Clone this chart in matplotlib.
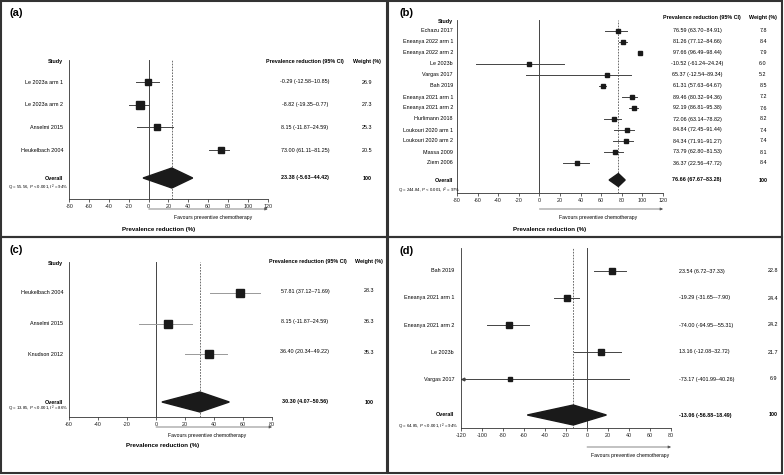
import matplotlib
matplotlib.use("Agg")
import matplotlib.pyplot as plt
import matplotlib.transforms as mtransforms
from matplotlib.patches import Rectangle, Polygon

plt.rcParams['font.family'] = ['Liberation Sans', 'DejaVu Sans']
plt.rcParams['mathtext.fontset'] = 'custom'
plt.rcParams['mathtext.rm'] = 'Liberation Sans'
plt.rcParams['mathtext.it'] = 'Liberation Sans:italic'
plt.rcParams['axes.unicode_minus'] = False

W, H = 784, 475

# (a)
a_studies = ["Le 2023a arm 1", "Le 2023a arm 2", "Anselmi 2015", "Heukelbach 2004"]
a_est = [-0.29, -8.82, 8.15, 73.00]
a_lo = [-12.58, -19.35, -11.87, 61.11]
a_hi = [10.85, 0.77, 24.59, 81.25]
a_wt = [26.9, 27.3, 25.3, 20.5]
a_overall = [23.38, -5.63, 44.42]
a_q = r"Q = 55.56, $\it{P}$ < 0.001, $\it{I}^2$ = 94%"

# (b)
b_studies = ["Echazu 2017", "Eneanya 2022 arm 1", "Eneanya 2022 arm 2", "Le 2023b",
             "Vargas 2017", "Bah 2019", "Eneanya 2021 arm 1", "Eneanya 2021 arm 2",
             "Hurlimann 2018", "Loukouri 2020 arm 1", "Loukouri 2020 arm 2",
             "Massa 2009", "Ziem 2006"]
b_est = [76.59, 81.26, 97.66, -10.52, 65.37, 61.31, 89.46, 92.19, 72.06, 84.84, 84.34, 73.79, 36.37]
b_lo = [63.70, 77.12, 96.49, -61.24, -12.54, 57.63, 80.32, 86.81, 63.14, 72.45, 71.91, 62.80, 22.56]
b_hi = [84.91, 84.66, 98.44, 24.24, 89.34, 64.67, 94.36, 95.38, 78.82, 91.44, 91.27, 81.53, 47.72]
b_wt = [7.8, 8.4, 7.9, 6.0, 5.2, 8.5, 7.2, 7.6, 8.2, 7.4, 7.4, 8.1, 8.4]
b_overall = [76.66, 67.67, 83.28]
b_q = r"Q = 244.84, $\it{P}$ < 0.001, $\it{I}^2$ = 97%"

# (c)
c_studies = ["Heukelbach 2004", "Anselmi 2015", "Knudson 2012"]
c_est = [57.81, 8.15, 36.40]
c_lo = [37.12, -11.87, 20.34]
c_hi = [71.69, 24.59, 49.22]
c_wt = [28.3, 36.3, 35.3]
c_overall = [30.30, 4.07, 50.56]
c_q = r"Q = 13.85, $\it{P}$ < 0.001, $\it{I}^2$ = 86%"

# (d)
d_studies = ["Bah 2019", "Eneanya 2021 arm 1", "Eneanya 2021 arm 2", "Le 2023b", "Vargas 2017"]
d_est = [23.54, -19.29, -74.00, 13.16, -73.17]
d_lo = [6.72, -31.65, -94.95, -12.08, -401.99]
d_hi = [37.33, -7.90, -55.31, 32.72, 40.26]
d_wt = [22.8, 24.4, 24.2, 21.7, 6.9]
d_overall = [-13.06, -56.88, 18.49]
d_q = r"Q = 64.85, $\it{P}$ < 0.001, $\it{I}^2$ = 94%"

FS = 3.9
DARK = '#1a1a1a'


def fx(px):
    return px / W


def fy(py):
    return 1 - py / H


def panel(fig, letter, off, box, xlim, rows, studies, est, lo, hi, wt, overall, q,
          label_x, ci_x, ci_ha, wt_x, header_y, arrow_y, fav_x, xlabel_pos,
          diamond_h, ci_color, ci_dy=0):
    ox, oy = off
    x0, top, x1, bot = box
    ax = fig.add_axes([fx(ox + x0), fy(oy + bot), (x1 - x0) / W, (bot - top) / H])
    ax.set_xlim(*xlim)
    # y axis measured in panel pixels from the panel top
    ax.set_ylim(bot, top)
    for s in ['top', 'right']:
        ax.spines[s].set_visible(False)
    for s in ['left', 'bottom']:
        ax.spines[s].set_linewidth(0.6)
        ax.spines[s].set_color('#333333')
    ax.set_yticks([])
    ax.set_xticks(range(xlim[0], xlim[1] + 1, 20))
    ax.tick_params(axis='x', length=2, width=0.5, labelsize=FS, pad=1.5, colors='#222222')
    ax.set_facecolor('none')

    ax.axvline(0, color='#444444', lw=0.7, zorder=1)
    ax.axvline(overall[0], color='#555555', lw=0.6, ls=(0, (2, 1.5)), zorder=1)

    tr = mtransforms.blended_transform_factory(fig.transFigure, ax.transData)
    y_first, step, oy_row, q_y = rows
    for i, name in enumerate(studies):
        y = y_first + i * step
        left = max(lo[i], xlim[0])
        ax.plot([left, hi[i]], [y, y], color=ci_color, lw=0.7, zorder=2)
        if lo[i] < xlim[0]:
            ax.plot(xlim[0] + 1.5, y, marker='<', ms=2, color=ci_color, clip_on=False, zorder=2)
        ax.plot(est[i], y, marker='s', ms=0.97 * wt[i] ** 0.5, color=DARK, mec=DARK, zorder=3)
        ax.text(fx(ox + label_x), y, name, transform=tr, ha='right', va='center', fontsize=FS)
        ax.text(fx(ox + ci_x), y + ci_dy, f"{est[i]:.2f} ({lo[i]:.2f}\u2013{hi[i]:.2f})",
                transform=tr, ha=ci_ha, va='center', fontsize=FS)
        ax.text(fx(ox + wt_x), y + ci_dy, f"{wt[i]:.1f}", transform=tr, ha='center', va='center', fontsize=FS)

    m, l, h = overall
    ax.add_patch(Polygon([[l, oy_row], [m, oy_row - diamond_h / 2], [h, oy_row], [m, oy_row + diamond_h / 2]],
                         closed=True, color=DARK, zorder=3))
    ax.text(fx(ox + label_x), oy_row, "Overall", transform=tr, ha='right', va='center',
            fontsize=FS, fontweight='bold')
    ax.text(fx(ox + ci_x), oy_row, f"{m:.2f} ({l:.2f}\u2013{h:.2f})", transform=tr, ha=ci_ha,
            va='center', fontsize=FS, fontweight='bold')
    ax.text(fx(ox + wt_x), oy_row, "100", transform=tr, ha='center', va='center',
            fontsize=FS, fontweight='bold')
    ax.text(fx(ox + 8), q_y, q, transform=tr, ha='left', va='center', fontsize=3.1)

    if header_y is not None:
        ax.text(fx(ox + label_x), header_y[0], "Study", transform=tr, ha='right', va='center',
                fontsize=FS, fontweight='bold')
        ax.text(fx(ox + header_y[2]), header_y[1], "Prevalence reduction (95% CI)", transform=tr,
                ha='center', va='center', fontsize=FS, fontweight='bold')
        ax.text(fx(ox + wt_x), header_y[1], "Weight (%)", transform=tr, ha='center', va='center',
                fontsize=FS, fontweight='bold')

    ax.annotate('', xy=(xlim[1], arrow_y), xytext=(0, arrow_y), annotation_clip=False,
                arrowprops=dict(arrowstyle='-|>', lw=0.5, color='#555555', mutation_scale=4,
                                shrinkA=0, shrinkB=0))
    fig.text(fx(ox + fav_x), fy(oy + arrow_y + 8), "Favours preventive chemotherapy",
             ha='center', va='center', fontsize=3.7)
    if xlabel_pos is not None:
        fig.text(fx(ox + xlabel_pos[0]), fy(oy + xlabel_pos[1]), "Prevalence reduction (%)",
                 ha='center', va='center', fontsize=4.4, fontweight='bold')
    fig.text(fx(ox + 10), fy(oy + letter[1]), letter[0], ha='left', va='center',
             fontsize=8, fontweight='bold')
    return ax


fig = plt.figure(figsize=(W / 100, H / 100), dpi=100)
fig.patch.set_facecolor('white')

# panel frames
for (px, py, pw, ph) in [(1, 1, 386, 236), (388, 1, 394, 236), (1, 237, 386, 236), (388, 237, 394, 236)]:
    fig.patches.append(Rectangle((fx(px), fy(py + ph)), pw / W, ph / H, transform=fig.transFigure,
                                 fill=False, lw=1.5, ec='#333333'))

panel(fig, ("(a)", 13), (0, 0), (69.3, 60, 267.7, 199), (-80, 120), (82, 22.7, 178, 188),
      a_studies, a_est, a_lo, a_hi, a_wt, a_overall, a_q,
      label_x=63, ci_x=305, ci_ha='center', wt_x=367, header_y=(62, 62, 305),
      arrow_y=209, fav_x=213, xlabel_pos=(159, 229), diamond_h=20, ci_color='#444444')

panel(fig, ("(b)", 13), (390, 0), (67, 20, 273, 193), (-80, 120), (31, 11.0, 180, 191),
      b_studies, b_est, b_lo, b_hi, b_wt, b_overall, b_q,
      label_x=63, ci_x=307, ci_ha='center', wt_x=373, header_y=(22, 18, 312),
      arrow_y=209, fav_x=208, xlabel_pos=(160, 229), diamond_h=13, ci_color='#444444')

panel(fig, ("(c)", 15), (0, 235), (69, 27, 272, 182), (-60, 80), (58, 30.5, 167, 174),
      c_studies, c_est, c_lo, c_hi, c_wt, c_overall, c_q,
      label_x=63, ci_x=305, ci_ha='center', wt_x=369, header_y=(29, 26, 308),
      arrow_y=192, fav_x=207, xlabel_pos=(163, 211), diamond_h=20, ci_color='#999999', ci_dy=-2)

panel(fig, ("(d)", 16), (390, 235), (71, 13, 281, 193), (-120, 80), (36, 27, 180, 192),
      d_studies, d_est, d_lo, d_hi, d_wt, d_overall, d_q,
      label_x=64, ci_x=289, ci_ha='left', wt_x=383, header_y=None,
      arrow_y=212, fav_x=240, xlabel_pos=None, diamond_h=20, ci_color='#444444')

fig.savefig("out.png", dpi=100, facecolor='white')
